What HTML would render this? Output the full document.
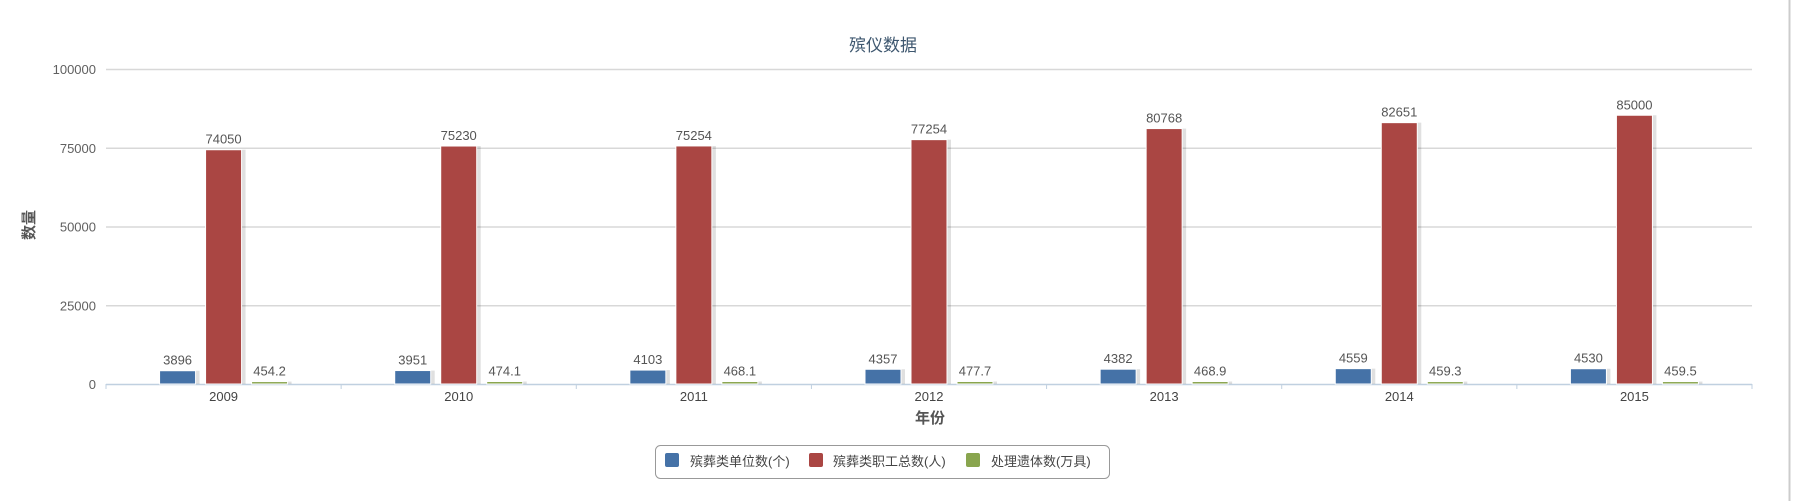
<!DOCTYPE html>
<html><head><meta charset="utf-8"><style>
body{margin:0;background:#fff;}
svg{display:block;font-family:"Liberation Sans","Noto Sans CJK SC",sans-serif;}
</style></head><body>
<svg id="chart" width="1800" height="501" viewBox="0 0 1800 501">
<rect x="0" y="0" width="1789" height="501" fill="#fff"/>
<line x1="1789.5" y1="0" x2="1789.5" y2="501" stroke="#ccc" stroke-width="2"/>
<text x="883" y="51" text-anchor="middle" font-size="17" fill="#3e576f">殡仪数据</text>
<g id="grid"></g><g id="bars"></g><g id="labels"></g>
<text x="0" y="0" transform="translate(34,225) rotate(-90)" text-anchor="middle" font-size="15" font-weight="bold" fill="#555">数量</text>
<text x="930" y="423" text-anchor="middle" font-size="15" font-weight="bold" fill="#555">年份</text>
<g>
<rect x="655.5" y="445.5" width="454" height="33" rx="5" fill="#fff" stroke="#999"/>
<g><rect x="665" y="453" width="14" height="14" rx="2" fill="#4572a7"/><text x="690" y="466" font-size="13" fill="#444">殡葬类单位数(个)</text></g>
<g><rect x="809" y="453" width="14" height="14" rx="2" fill="#aa4643"/><text x="833" y="466" font-size="13" fill="#444">殡葬类职工总数(人)</text></g>
<g><rect x="966" y="453" width="14" height="14" rx="2" fill="#89a54e"/><text x="991" y="466" font-size="13" fill="#444">处理遗体数(万具)</text></g>
</g>
</svg>
<script>
const categories=["2009","2010","2011","2012","2013","2014","2015"];
const units=[3896,3951,4103,4357,4382,4559,4530];
const staff=[74050,75230,75254,77254,80768,82651,85000];
const bodies=[454.2,474.1,468.1,477.7,468.9,459.3,459.5];
const yTicks=[0,25000,50000,75000,100000];
const NS="http://www.w3.org/2000/svg";
const L=106,R=1752,T=69,B=384,YMAX=100000;
const cw=(R-L)/categories.length;
function y(v){return B-(v/YMAX)*(B-T);}
function xc(i){return L+cw*(i+0.5);}
function mk(tag,attrs,parent,txt){const e=document.createElementNS(NS,tag);for(const k in attrs)e.setAttribute(k,attrs[k]);if(txt!==undefined)e.textContent=txt;document.getElementById(parent).appendChild(e);return e;}
yTicks.forEach(v=>{
  const ln=mk('line',{x1:L,x2:R,y1:y(v)+0.5,y2:y(v)+0.5,stroke:v===0?'#c0d0e0':'#d8d8d8','stroke-width':1.5},'grid');
  
  
  const t=mk('text',{x:L-10,y:y(v)+5,'text-anchor':'end','font-size':13,fill:'#606060'},'grid',String(v));
  
  
});
for(let i=0;i<=categories.length;i++){
  const tk=mk('line',{x1:L+cw*i,x2:L+cw*i,y1:B,y2:B+5,stroke:'#c0d0e0'},'grid');
  
  
}
const series=[{d:units,c:'#4572a7',o:-46,n:'units'},{d:staff,c:'#aa4643',o:0,n:'staff'},{d:bodies,c:'#89a54e',o:46,n:'bodies'}];
categories.forEach((c,i)=>{
  const t=mk('text',{x:xc(i),y:401,'text-anchor':'middle','font-size':13,fill:'#444'},'labels',c);
  
  
  series.forEach(s=>{
    const v=s.d[i],w=36,x0=xc(i)+s.o-w/2,top=y(v),h=Math.max(B-top,1);
    const sh=mk('rect',{x:x0+2,y:top-1,width:w+2,height:h+1,fill:'#000',opacity:0.12},'bars');
    
    
    const b=mk('rect',{x:x0,y:top-1,width:w,height:h+1,fill:s.c,stroke:'#fff','stroke-width':1},'bars');
    
    
    const lb=mk('text',{x:xc(i)+s.o,y:top-7,'text-anchor':'middle','font-size':13,fill:'#555'},'labels',String(v));
    
    
  });
});
</script>
</body></html>
